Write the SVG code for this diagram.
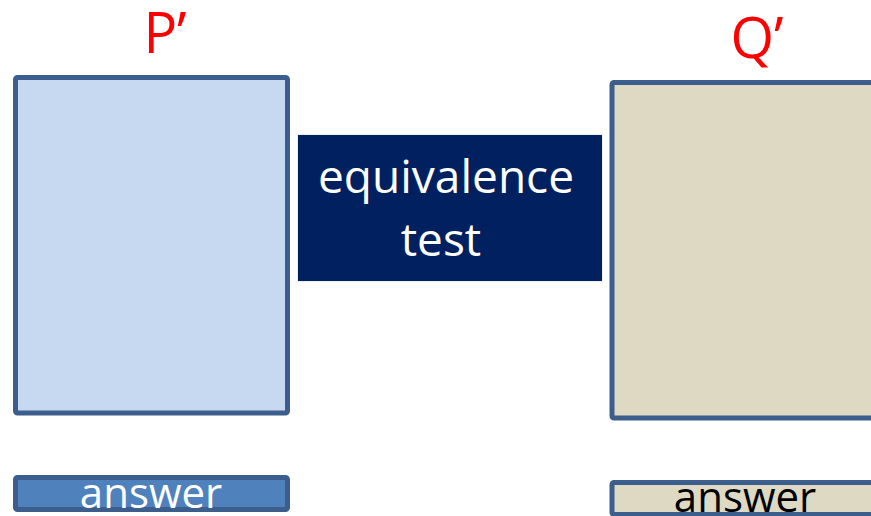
<svg xmlns="http://www.w3.org/2000/svg" width="871" height="516" viewBox="0 0 871 516">
<style>
.lbl{font-family:"Open Sans","Noto Sans",sans-serif;fill:#ff0000;font-size:56px;text-anchor:middle}
.box{stroke:#3b5e8c;stroke-width:5}
.t{font-family:"Open Sans","Noto Sans",sans-serif;text-anchor:middle}
</style>
<rect width="871" height="516" fill="#ffffff"/>
<g id="P">
<text class="lbl" x="165" y="53">P’</text>
<rect class="box" x="15.5" y="77.5" width="272" height="335.5" rx="2" fill="#c6d9f0"/>
</g>
<g id="Q">
<text class="lbl" x="757" y="58">Q’</text>
<rect class="box" x="612" y="82.5" width="270" height="335.5" rx="2" fill="#ddd9c3"/>
</g>
<g id="equiv">
<rect x="297.5" y="134.5" width="305" height="147" fill="#002060" stroke="#eeeeee" stroke-width="1"/>
<text class="t" x="446" y="193" font-size="46" fill="#ffffff" textLength="256" lengthAdjust="spacingAndGlyphs">equivalence</text>
<text class="t" x="441" y="256" font-size="46" fill="#ffffff">test</text>
</g>
<g id="answerP">
<rect class="box" x="15.5" y="477.5" width="272" height="32" rx="2" fill="#4f81bd"/>
<text class="t" x="151" y="508" font-size="42" fill="#ffffff">answer</text>
</g>
<g id="answerQ">
<rect class="box" x="612" y="482.5" width="270" height="32" rx="2" fill="#ddd9c3"/>
<text class="t" x="745" y="512" font-size="42" fill="#000000">answer</text>
</g>
<g id="connectors"></g>
</svg>
